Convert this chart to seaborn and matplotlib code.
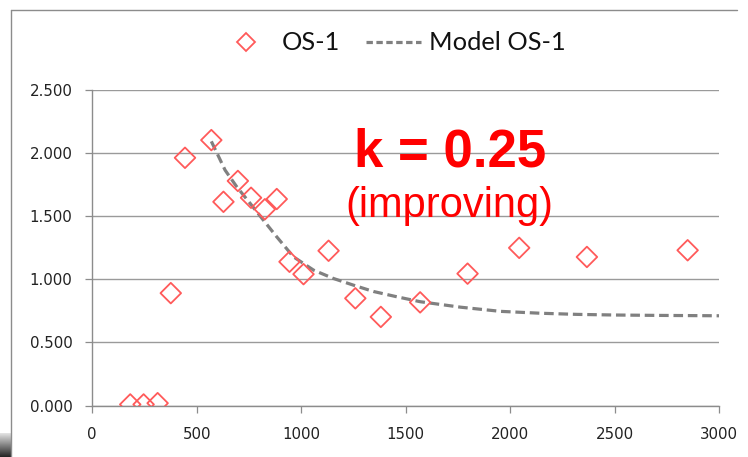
import numpy as np
import pandas as pd
import matplotlib
matplotlib.use("Agg")
import matplotlib.pyplot as plt
from matplotlib.lines import Line2D
import seaborn as sns

# Measured OS-1 points
os_x = [182, 246, 313, 376, 444, 570, 628, 697, 760, 826, 883, 944, 1011, 1131, 1259, 1381, 1569, 1796, 2043, 2367, 2849]
os_y = [0.01, 0.01, 0.02, 0.89, 1.96, 2.10, 1.612, 1.777, 1.644, 1.553, 1.634, 1.138, 1.040, 1.225, 0.849, 0.702, 0.817, 1.044, 1.248, 1.176, 1.229]

# Model OS-1 curve, sampled along its length
model_x = [570, 636, 692, 756, 819, 883, 963, 1059, 1154, 1250, 1346, 1458, 1570, 1762, 1953, 2145, 2320, 2500, 2700, 3000]
model_y = [2.09, 1.862, 1.730, 1.599, 1.467, 1.335, 1.177, 1.072, 1.006, 0.953, 0.903, 0.861, 0.822, 0.779, 0.746, 0.731, 0.722, 0.717, 0.714, 0.711]

x_ticks = [0, 500, 1000, 1500, 2000, 2500, 3000]
y_ticks = [0.0, 0.5, 1.0, 1.5, 2.0, 2.5]

k_label = "k = 0.25"
k_note = "(improving)"

obs = pd.DataFrame({"x": os_x, "y": os_y})
mod = pd.DataFrame({"x": model_x, "y": model_y})

sns.set_theme(style="white")
plt.rcParams["font.family"] = ["DejaVu Sans"]

W, H = 748, 457
fig = plt.figure(figsize=(W / 100, H / 100), dpi=100)
ax = fig.add_axes([92.2 / W, 1 - 405.7 / H, (719.2 - 92.2) / W, (405.7 - 89.5) / H])

red = "#FF5A5A"
gray_line = "#808080"

sns.lineplot(data=mod, x="x", y="y", ax=ax, color=gray_line, lw=2.3,
             dashes=False, zorder=2, legend=False)
ax.lines[-1].set_dashes((3.0, 1.5))

sns.scatterplot(data=obs, x="x", y="y", ax=ax, marker="D", s=110,
                facecolor="none", edgecolor=red, linewidth=1.3, zorder=3, legend=False)

ax.set_xlim(0, 3000)
ax.set_ylim(0, 2.5)
ax.set_xticks(x_ticks)
ax.set_yticks(y_ticks)
ax.set_xticklabels([str(v) for v in x_ticks])
ax.set_yticklabels([f"{v:.3f}" for v in y_ticks])
ax.set_xlabel("")
ax.set_ylabel("")

ax.grid(axis="y", color="#9a9a9a", lw=1.0)
ax.grid(axis="x", visible=False)
ax.set_axisbelow(True)
for side in ("top", "right"):
    ax.spines[side].set_visible(False)
for side in ("left", "bottom"):
    ax.spines[side].set_color("#8c8c8c")
    ax.spines[side].set_linewidth(1.0)
ax.tick_params(axis="both", direction="out", length=4.8, width=0.9, color="#8c8c8c",
               labelsize=10.8, labelcolor="#222222")
ax.tick_params(axis="y", pad=9.5, left=True)
ax.tick_params(axis="x", pad=10.5, bottom=True)

# Annotation text
ax.text(0.5716, (405.7 - 166.7) / (405.7 - 89.5), k_label,
        transform=ax.transAxes, ha="center", va="baseline",
        fontsize=38, fontweight="bold", color="#FF0000", family="Liberation Sans")
ax.text(0.5690, (405.7 - 216.7) / (405.7 - 89.5), k_note,
        transform=ax.transAxes, ha="center", va="baseline",
        fontsize=30, color="#FF0000", family="Liberation Sans")

# Legend above the plot
handles = [
    Line2D([], [], ls="none", marker="D", markersize=9.5, markerfacecolor="none",
           markeredgecolor=red, markeredgewidth=1.3),
    Line2D([], [], color=gray_line, lw=2.3, dashes=(2.0, 1.1)),
]
fig.legend(handles, ["OS-1", "Model OS-1"], loc="center", ncol=2,
           bbox_to_anchor=(392 / W, 1 - 43 / H), frameon=False,
           prop={"family": "Lato", "size": 18.3}, labelcolor="#111111",
           handlelength=2.2, handletextpad=0.3, columnspacing=1.0)

# Chart frame edges
fig.add_artist(Line2D([11 / W, 11 / W], [0, 1 - 9.5 / H], transform=fig.transFigure,
                      color="#8c8c8c", lw=1.0))
fig.add_artist(Line2D([11 / W, 737 / W], [1 - 9.5 / H, 1 - 9.5 / H], transform=fig.transFigure,
                      color="#8c8c8c", lw=1.0))

# Dark corner strip at the lower left
corner = fig.add_axes([0, 0, 10.5 / W, 24 / H])
grad = np.linspace(0.88, 0.15, 24).reshape(-1, 1)
corner.imshow(grad, cmap="gray", vmin=0, vmax=1, aspect="auto")
corner.axis("off")

fig.savefig("out.png", dpi=100)
